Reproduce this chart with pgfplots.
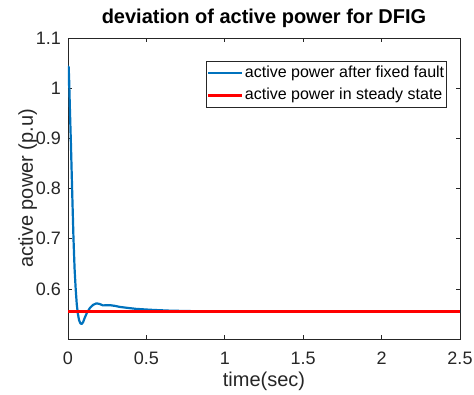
\documentclass[border=0pt]{standalone}
\usepackage{fontspec}
\setmainfont{Liberation Sans}
\usepackage{pgfplots}
\pgfplotsset{compat=1.18}
\definecolor{mblue}{rgb}{0,0.447,0.741}
\definecolor{mgray}{rgb}{0.15,0.15,0.15}
\begin{document}
\begin{tikzpicture}
\useasboundingbox (-68pt,-55pt) rectangle (406pt,339pt);
\begin{axis}[
  scale only axis, width=392pt, height=301pt,
  xmin=0, xmax=2.5, ymin=0.5, ymax=1.1,
  xtick={0,0.5,1,1.5,2,2.5},
  ytick={0.6,0.7,0.8,0.9,1,1.1},
  axis line style={mgray, line width=0.6pt},
  tick style={mgray, line width=0.6pt},
  major tick length=4pt,
  /pgf/number format/assume math mode=true,
  tick label style={font=\fontsize{18}{21}\selectfont, inner sep=0pt, text=mgray},
  xticklabel shift=13pt, yticklabel shift=7pt,
  title={deviation of active power for DFIG},
  title style={at={(axis description cs:0.5,1)}, anchor=base, yshift=9pt, font=\bfseries\fontsize{20}{24}\selectfont, inner sep=0pt},
  xlabel={time(sec)},
  xlabel style={at={(axis description cs:0.5,0)}, anchor=base, yshift=-47pt, font=\fontsize{20}{24}\selectfont, inner sep=0pt, text=mgray},
  ylabel={active power (p.u)},
  ylabel style={at={([xshift=-35pt]axis description cs:0,0.5)}, anchor=base, font=\fontsize{20}{24}\selectfont, inner sep=0pt, text=mgray},
  legend style={at={(0.9668,0.9236)}, anchor=north east, draw=mgray, line width=0.6pt,
    font=\fontsize{16}{19}\selectfont, inner xsep=1pt, inner ysep=2.5pt, row sep=4pt,
    nodes={inner sep=1.5pt, text height=12pt, text depth=3.5pt}, cells={anchor=west}},
  legend image code/.code={\draw[#1, line width=2.2pt] (0pt,0pt) -- (34pt,0pt);},
]
\addplot[mblue, line width=2.2pt, line join=round] coordinates {
(0,1.005) (0.002,1.040) (0.004,1.043) (0.007,1.020) (0.012,0.960) (0.019,0.885)
(0.027,0.790) (0.035,0.700) (0.042,0.640) (0.049,0.600) (0.056,0.569) (0.063,0.550)
(0.071,0.537) (0.080,0.531) (0.088,0.530) (0.097,0.534) (0.105,0.541) (0.119,0.551)
(0.140,0.562) (0.160,0.568) (0.181,0.571) (0.200,0.570) (0.223,0.567) (0.245,0.5672)
(0.266,0.5675) (0.300,0.566) (0.330,0.564) (0.380,0.562) (0.436,0.560) (0.540,0.558)
(0.650,0.5565) (0.800,0.5555) (1.000,0.5550) (1.500,0.5548) (2.500,0.5548)
};
\addlegendentry{active power after fixed fault}
\addplot[red, line width=2.2pt] coordinates {(0,0.555) (2.5,0.555)};
\addlegendentry{active power in steady state}
\end{axis}
\end{tikzpicture}
\end{document}
